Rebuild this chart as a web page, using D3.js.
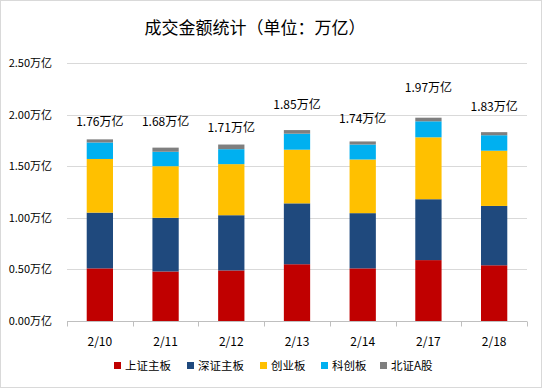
<!DOCTYPE html>
<html>
<head>
<meta charset="utf-8">
<script src="https://cdn.jsdelivr.net/npm/d3@7"></script>
<style>
  body { margin: 0; background: #fff; }
  svg text { font-family: "Noto Sans CJK SC", "Noto Sans", sans-serif; fill: #000; }
</style>
</head>
<body>
<div id="chart"></div>
<script>
/* donnees du graphique */
var dates = ["2/10", "2/11", "2/12", "2/13", "2/14", "2/17", "2/18"];
var series = ["上证主板", "深证主板", "创业板", "科创板", "北证A股"];
var shMain = [0.51, 0.48, 0.49, 0.55, 0.51, 0.59, 0.54];
var szMain = [0.54, 0.52, 0.535, 0.59, 0.535, 0.59, 0.575];
var chiNext = [0.52, 0.50, 0.495, 0.52, 0.52, 0.60, 0.535];
var star = [0.16, 0.14, 0.145, 0.155, 0.145, 0.155, 0.15];
var bse = [0.03, 0.04, 0.045, 0.035, 0.03, 0.035, 0.03];
var totals = [1.76, 1.68, 1.71, 1.85, 1.74, 1.97, 1.83];
var yTicks = [0, 0.5, 1.0, 1.5, 2.0, 2.5];

// mise en page : decalage vertical (px) des etiquettes au-dessus des barres
var labelLift = [13, 22, 13, 21, 18, 26, 21];
var colors = ["#C00000", "#1F497D", "#FFC000", "#00B0F0", "#7F7F7F"];

var W = 542, H = 388;
var margin = {top: 63, right: 15, bottom: 67, left: 67};

var svg = d3.select('#chart').append('svg').attr('width', W).attr('height', H);

// cadre
svg.append('rect')
    .attr('x', 0.5).attr('y', 0.5)
    .attr('width', W - 1).attr('height', H - 1)
    .style('fill', '#fff').style('stroke', '#d9d9d9');

// titre
svg.append('text')
    .attr('x', 255).attr('y', 34)
    .attr('text-anchor', 'middle')
    .style('font-size', '17px')
    .text('成交金额统计（单位：万亿）');

// on construit la table pour d3.stack
var table = dates.map(function(d, i){
    return {date: d, s0: shMain[i], s1: szMain[i], s2: chiNext[i], s3: star[i], s4: bse[i]};
});
var stack = d3.stack().keys(["s0", "s1", "s2", "s3", "s4"])(table);

var x = d3.scaleBand().domain(dates)
    .range([margin.left, W - margin.right])
    .paddingInner(0.6).paddingOuter(0.3);
var y = d3.scaleLinear().domain([0, 2.5]).range([H - margin.bottom, margin.top]);

// grille
svg.append('g').selectAll('line').data(yTicks.slice(1)).enter().append('line')
    .attr('x1', margin.left).attr('x2', W - margin.right)
    .attr('y1', function(d){ return Math.round(y(d)) + 0.5; })
    .attr('y2', function(d){ return Math.round(y(d)) + 0.5; })
    .style('stroke', '#d9d9d9');

// axe y (labels seulement)
var yAxis = svg.append('g')
    .attr('transform', 'translate(' + (margin.left - 12) + ',0)')
    .call(d3.axisLeft(y).tickValues(yTicks).tickSize(0)
        .tickFormat(function(d){ return d3.format('.2f')(d) + '万亿'; }));
yAxis.select('.domain').remove();
yAxis.selectAll('text').style('font-size', '11px');

// barres empilees
svg.selectAll('.layer').data(stack).enter().append('g')
    .attr('class', 'layer')
    .style('fill', function(d, i){ return colors[i]; })
  .selectAll('rect').data(function(d){ return d; }).enter().append('rect')
    .attr('x', function(d){ return x(d.data.date); })
    .attr('width', x.bandwidth())
    .attr('y', function(d){ return y(d[1]); })
    .attr('height', function(d){ return y(d[0]) - y(d[1]); });

// axe x
var xAxis = svg.append('g')
    .attr('transform', 'translate(0,' + (Math.round(y(0)) + 0.5) + ')');
xAxis.append('line')
    .attr('x1', margin.left).attr('x2', W - margin.right)
    .style('stroke', '#bfbfbf');
// graduations entre les categories
var plotW = W - margin.right - margin.left;
xAxis.selectAll('.tk').data(d3.range(dates.length + 1)).enter().append('line')
    .attr('x1', function(i){ return Math.round(margin.left + i * plotW / dates.length) + 0.5; })
    .attr('x2', function(i){ return Math.round(margin.left + i * plotW / dates.length) + 0.5; })
    .attr('y1', 0).attr('y2', 5)
    .style('stroke', '#bfbfbf');
xAxis.selectAll('.lbl').data(dates).enter().append('text')
    .attr('x', function(d){ return x(d) + x.bandwidth() / 2; })
    .attr('y', 24)
    .attr('text-anchor', 'middle')
    .style('font-size', '12px')
    .text(function(d){ return d; });

// etiquettes des totaux
svg.selectAll('.total').data(totals).enter().append('text')
    .attr('x', function(d, i){ return x(dates[i]) + x.bandwidth() / 2; })
    .attr('y', function(d, i){ return y(d) - labelLift[i]; })
    .attr('text-anchor', 'middle')
    .style('font-size', '12px')
    .text(function(d){ return d3.format('.2f')(d) + '万亿'; });

// legende
var legendX = [114, 187, 260, 321, 380];
var legend = svg.selectAll('.leg').data(series).enter().append('g')
    .attr('transform', function(d, i){ return 'translate(' + legendX[i] + ',366)'; });
legend.append('rect')
    .attr('x', 0).attr('y', -4)
    .attr('width', 7).attr('height', 7)
    .style('fill', function(d, i){ return colors[i]; });
legend.append('text')
    .attr('x', 11).attr('y', 4)
    .style('font-size', '11.5px')
    .text(function(d){ return d; });
</script>
</body>
</html>
